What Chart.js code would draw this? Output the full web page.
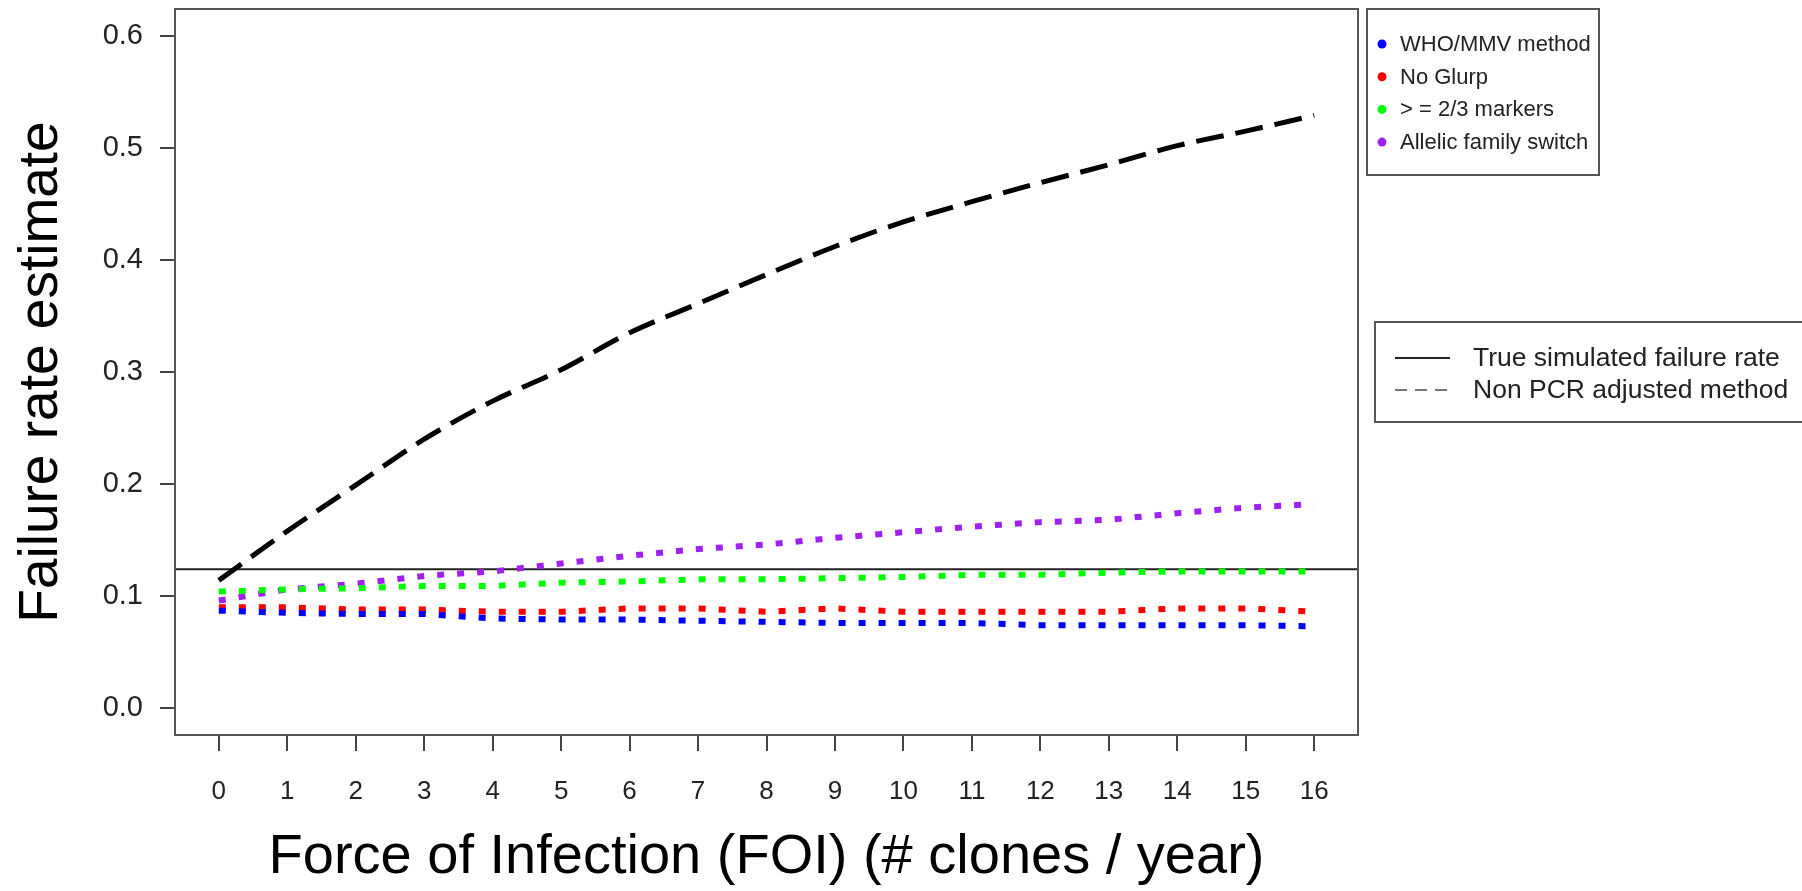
<!DOCTYPE html>
<html>
<head>
<meta charset="utf-8">
<script src="https://cdn.jsdelivr.net/npm/chart.js@4.4.1/dist/chart.umd.min.js"></script>
<style>
  html, body { margin: 0; padding: 0; background: #fff; }
  #wrap { width: 1802px; height: 891px; }
</style>
</head>
<body>
<div id="wrap"><canvas id="chart" width="1802" height="891"></canvas></div>
<script>
// force of infection (x) and the estimates
const foi = [0, 1, 2, 3, 4, 5, 6, 7, 8, 9, 10, 11, 12, 13, 14, 15, 16];
const whoMmv = [0.087, 0.085, 0.084, 0.084, 0.080, 0.079, 0.079, 0.078, 0.077, 0.076, 0.076, 0.076, 0.074, 0.074, 0.074, 0.074, 0.073];
const noGlurp = [0.090, 0.090, 0.088, 0.088, 0.086, 0.086, 0.089, 0.089, 0.086, 0.089, 0.086, 0.086, 0.086, 0.086, 0.089, 0.089, 0.086];
const markers23 = [0.104, 0.106, 0.107, 0.109, 0.109, 0.112, 0.113, 0.115, 0.115, 0.116, 0.117, 0.119, 0.119, 0.121, 0.122, 0.122, 0.122];
const allelicSwitch = [0.096, 0.106, 0.111, 0.118, 0.122, 0.129, 0.136, 0.142, 0.146, 0.152, 0.157, 0.162, 0.166, 0.168, 0.174, 0.179, 0.182];
const nonPcr = [0.114, 0.158, 0.199, 0.240, 0.274, 0.302, 0.335, 0.361, 0.387, 0.412, 0.434, 0.452, 0.469, 0.485, 0.502, 0.515, 0.529];
const trueRate = 0.124;

const xTicks = foi;
const yTicks = [0, 0.1, 0.2, 0.3, 0.4, 0.5, 0.6];
const xMin = -0.64, xMax = 16.64;
const yMin = -0.024, yMax = 0.624;

const dotLegend = [
    { label: 'WHO/MMV method', color: '#0000ff' },
    { label: 'No Glurp', color: '#ff0000' },
    { label: '> = 2/3 markers', color: '#00ff00' },
    { label: 'Allelic family switch', color: '#a020f0' }
];
const lineLegend = [
    { label: 'True simulated failure rate', dash: [], color: '#222' },
    { label: 'Non PCR adjusted method', dash: [12, 8], color: '#777' }
];

const FONT = '"Liberation Sans", Arial, sans-serif';

function points(vals) {
    return foi.map((x, i) => ({ x: x, y: vals[i] }));
}

function dotted(vals, color) {
    return {
        data: points(vals),
        borderColor: color,
        borderWidth: 6,
        borderDash: [7, 13],
        borderCapStyle: 'butt',
        pointRadius: 0,
        tension: 0,
        fill: false
    };
}

// box round the plot and the two legends
const framePlugin = {
    id: 'frame',
    afterDraw(chart) {
        const ctx = chart.ctx;
        const a = chart.chartArea;
        ctx.save();
        ctx.strokeStyle = '#555';
        ctx.lineWidth = 2;
        ctx.strokeRect(a.left, a.top, a.right - a.left, a.bottom - a.top);

        // legend 1
        ctx.strokeRect(1367, 9, 232, 166);
        ctx.font = '22px ' + FONT;
        ctx.textBaseline = 'middle';
        ctx.textAlign = 'left';
        dotLegend.forEach((d, i) => {
            const y = 44 + i * 32.7;
            ctx.fillStyle = d.color;
            ctx.beginPath();
            ctx.arc(1382, y, 4.5, 0, Math.PI * 2);
            ctx.fill();
            ctx.fillStyle = '#222';
            ctx.fillText(d.label, 1400, y + 1);
        });

        // legend 2
        ctx.font = '26.5px ' + FONT;
        ctx.strokeStyle = '#555';
        ctx.strokeRect(1375, 322, 460, 100);
        lineLegend.forEach((d, i) => {
            const y = 358 + i * 32;
            ctx.strokeStyle = d.color;
            ctx.lineWidth = 2;
            ctx.setLineDash(d.dash);
            ctx.beginPath();
            ctx.moveTo(1395, y);
            ctx.lineTo(1450, y);
            ctx.stroke();
            ctx.setLineDash([]);
            ctx.fillStyle = '#222';
            ctx.fillText(d.label, 1473, y + 1);
        });
        ctx.restore();
    }
};

const ctx = document.getElementById('chart').getContext('2d');
new Chart(ctx, {
    type: 'line',
    data: {
        datasets: [
            dotted(whoMmv, '#0000ff'),
            dotted(noGlurp, '#ff0000'),
            dotted(markers23, '#00ff00'),
            dotted(allelicSwitch, '#a020f0'),
            {
                data: points(nonPcr),
                borderColor: '#000',
                borderWidth: 5,
                borderDash: [28, 12],
                borderCapStyle: 'butt',
                pointRadius: 0,
                cubicInterpolationMode: 'monotone',
                fill: false
            },
            {
                data: [{ x: xMin, y: trueRate }, { x: xMax, y: trueRate }],
                borderColor: '#222',
                borderWidth: 2,
                pointRadius: 0,
                fill: false
            }
        ]
    },
    options: {
        responsive: false,
        animation: false,
        devicePixelRatio: 1,
        layout: { padding: { top: 9, right: 444, left: 0, bottom: 0 } },
        plugins: {
            legend: { display: false },
            tooltip: { enabled: false }
        },
        scales: {
            x: {
                type: 'linear',
                min: xMin,
                max: xMax,
                afterFit: (s) => {
                    s.height = 156;
                    s.paddingLeft = 0;
                    s.paddingRight = 0;
                },
                afterBuildTicks: (s) => { s.ticks = xTicks.map(v => ({ value: v })); },
                grid: { drawOnChartArea: false, drawTicks: true, tickLength: 16, color: '#444', lineWidth: 2 },
                border: { display: false },
                ticks: {
                    padding: 25,
                    maxRotation: 0,
                    autoSkip: false,
                    color: '#222',
                    font: { size: 26, family: FONT },
                    callback: (v) => String(v)
                },
                title: {
                    display: true,
                    text: 'Force of Infection (FOI) (# clones / year)',
                    color: '#000',
                    font: { size: 56, family: FONT },
                    padding: { top: 0, bottom: 0 }
                }
            },
            y: {
                type: 'linear',
                min: yMin,
                max: yMax,
                afterFit: (s) => {
                    s.width = 175;
                    s.paddingTop = 0;
                    s.paddingBottom = 0;
                },
                afterBuildTicks: (s) => { s.ticks = yTicks.map(v => ({ value: v })); },
                grid: { drawOnChartArea: false, drawTicks: true, tickLength: 15, color: '#444', lineWidth: 2 },
                border: { display: false },
                ticks: {
                    padding: 17,
                    autoSkip: false,
                    color: '#222',
                    font: { size: 29, family: FONT },
                    callback: (v) => v.toFixed(1)
                },
                title: {
                    display: true,
                    text: 'Failure rate estimate',
                    color: '#000',
                    font: { size: 55, family: FONT },
                    padding: { top: 9, bottom: 0 }
                }
            }
        }
    },
    plugins: [framePlugin]
});
</script>
</body>
</html>
